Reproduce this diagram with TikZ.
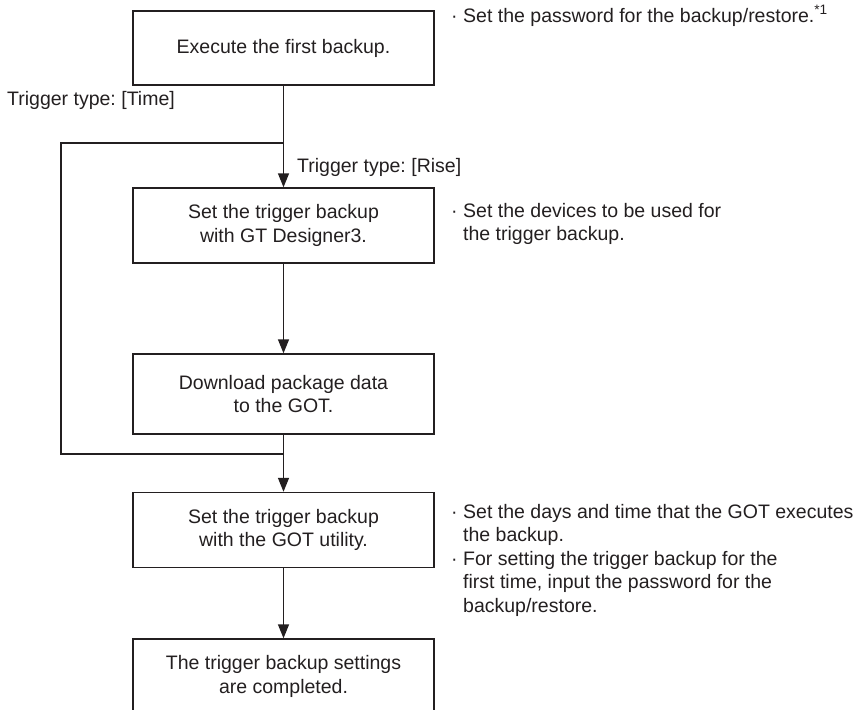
\documentclass[tikz,border=0pt]{standalone}
\usepackage{fontspec}
\setmainfont{Liberation Sans}
\usetikzlibrary{arrows.meta}
\definecolor{ink}{HTML}{231F20}
\newcommand{\bul}{\makebox[12pt][l]{\textperiodcentered}}
\newcommand{\hang}{\hspace*{12pt}}
\frenchspacing

\begin{document}
\begin{tikzpicture}[x=1pt, y=-1pt,
    font=\fontsize{19.5}{23.5}\selectfont, color=ink,
    stepbox/.style={rectangle, draw=ink, line width=1.4pt, minimum width=301pt, minimum height=75pt, align=center, inner sep=0pt},
    flow/.style={draw=ink, line width=1.4pt, -{Triangle[width=11pt,length=14pt]}},
    link/.style={draw=ink, line width=1.4pt},
    note/.style={anchor=north west, align=left, inner sep=0pt},
    tag/.style={anchor=west, inner sep=0pt}
]
\useasboundingbox (0,0) rectangle (866,709);

% Steps
\node[stepbox, minimum height=74pt] (first) at (283.5,48) {Execute the first backup.};
\node[stepbox] (trigset) at (283.5,225.5) {Set the trigger backup\\with GT Designer3.};
\node[stepbox, minimum height=80pt] (download) at (283.5,394) {Download package data\\to the GOT.};
\node[stepbox] (utility) at (283.5,530) {Set the trigger backup\\with the GOT utility.};
\node[stepbox] (done) at (283.5,676.5) {The trigger backup settings\\are completed.};

% Branch points
\coordinate (split) at (283.5,143);
\coordinate (tcorner) at (61,143);
\coordinate (merge) at (283.5,454);

% Trigger labels
\node[tag] (time) at (7,100) {Trigger type: [Time]};
\node[tag] (rise) at (297,167) {Trigger type: [Rise]};

% Notes
\node[note] (pwnote) at (451,5) {\bul Set the password for the backup/restore.\textsuperscript{*1}};
\node[note] (devnote) at (451,203) {\bul Set the devices to be used for\\\hang the trigger backup.};
\node[note] (daynote) at (451,504) {\bul Set the days and time that the GOT executes\\\hang the backup.\\\bul For setting the trigger backup for the\\\hang first time, input the password for the\\\hang backup/restore.};

% Flow
\draw[flow] (first) -- (trigset);
\draw[flow] (trigset) -- (download);
\draw[flow] (download) -- (utility);
\draw[flow] (utility) -- (done);
\draw[link] (split) -- (tcorner) |- (merge);

\end{tikzpicture}
\end{document}
